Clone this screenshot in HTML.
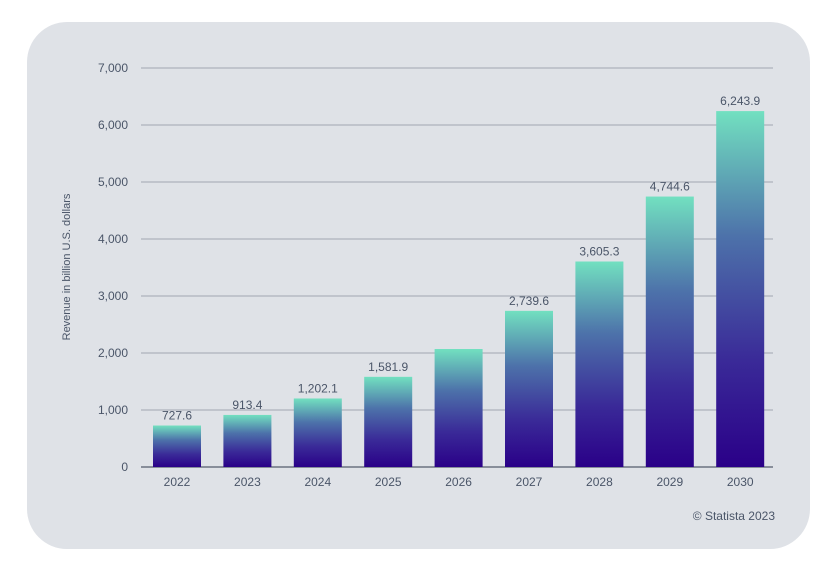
<!DOCTYPE html>
<html><head><meta charset="utf-8"><style>
body{margin:0;background:#fff;width:837px;height:577px;overflow:hidden;font-family:"Liberation Sans",sans-serif}
</style></head><body>
<svg width="837" height="577" xmlns="http://www.w3.org/2000/svg">
<defs><linearGradient id="g" x1="0" y1="0" x2="0" y2="1">
<stop offset="0" stop-color="#72e0c0"/><stop offset="0.35" stop-color="#4d72aa"/><stop offset="0.7" stop-color="#3a2a98"/><stop offset="1" stop-color="#2a0088"/></linearGradient></defs>
<rect x="27" y="22" width="783" height="527" rx="40" fill="#dfe2e7"/>
<g id="grid"></g><g id="bars"></g>
<text x="70" y="267" transform="rotate(-90 70 267)" text-anchor="middle" font-size="11" fill="#4a5568">Revenue in billion U.S. dollars</text>
<text x="775" y="520" text-anchor="end" font-size="12" fill="#4a5568">© Statista 2023</text>
</svg>
<script>
const categories=["2022","2023","2024","2025","2026","2027","2028","2029","2030"];
const values=[727.6,913.4,1202.1,1581.9,2070,2739.6,3605.3,4744.6,6243.9];
const labels=["727.6","913.4","1,202.1","1,581.9","","2,739.6","3,605.3","4,744.6","6,243.9"];
const ticks=[0,1000,2000,3000,4000,5000,6000,7000];
const tickLabels=["0","1,000","2,000","3,000","4,000","5,000","6,000","7,000"];
const NS="http://www.w3.org/2000/svg";
const y=v=>467-v*57/1000, x=i=>177+i*70.4;
function mk(t,a,p){const e=document.createElementNS(NS,t);for(const k in a)e.setAttribute(k,a[k]);p.appendChild(e);return e;}
const G=document.getElementById('grid'),B=document.getElementById('bars');
ticks.forEach((t,i)=>{
 const l=mk('line',{x1:141,x2:773,y1:y(t),y2:y(t),stroke:t?'#a0a6b0':'#6b7280','stroke-width':t?1:1.5},G);
 
 
 const tx=mk('text',{x:128,y:y(t)+4,'text-anchor':'end','font-size':12,fill:'#4a5568'},G);tx.textContent=tickLabels[i];
 
 
});
categories.forEach((c,i)=>{
 const r=mk('rect',{x:x(i)-24,y:y(values[i]),width:48,height:467-y(values[i]),fill:'url(#g)'},B);
 
 
 const t=mk('text',{x:x(i),y:486,'text-anchor':'middle','font-size':12,fill:'#4a5568'},B);t.textContent=c;
 
 
 if(labels[i]){const v=mk('text',{x:x(i),y:y(values[i])-6,'text-anchor':'middle','font-size':12,fill:'#4a5568'},B);v.textContent=labels[i];
 
 }
});
</script>
</body></html>
